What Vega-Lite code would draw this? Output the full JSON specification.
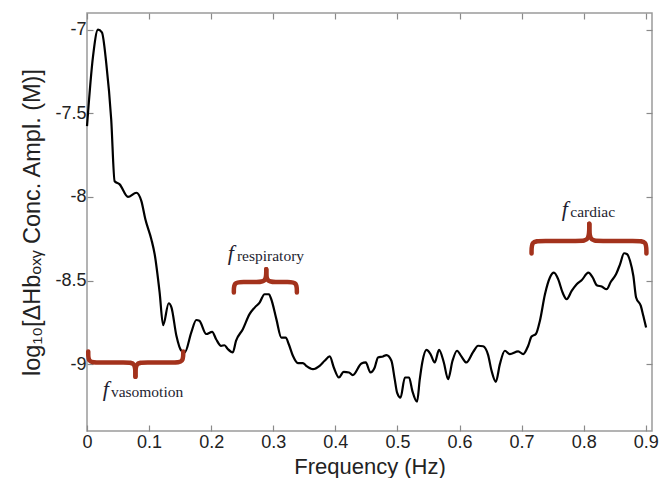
{
  "$schema": "https://vega.github.io/schema/vega-lite/v6.json",
  "width": 565,
  "height": 418,
  "autosize": {"type": "none"},
  "padding": {"left": 87, "top": 13, "right": 19, "bottom": 47},
  "background": "white",
  "config": {
    "view": {"stroke": "#9a9a9a", "strokeWidth": 1.5},
    "axis": {"grid": false, "domain": false, "labelFont": "Liberation Sans", "titleFont": "Liberation Sans", "labelColor": "#222", "titleColor": "#222", "tickColor": "#8a8a8a", "tickWidth": 1.2, "titleFontWeight": "normal", "labelFlush": false}
  },
  "datasets": {
    "spec": [
      {"f": 0, "a": -7.577}, {"f": 0.0097, "a": -7.159}, {"f": 0.0177, "a": -7.0}, {"f": 0.024, "a": -7.016},
      {"f": 0.031, "a": -7.2}, {"f": 0.039, "a": -7.537}, {"f": 0.0445, "a": -7.906}, {"f": 0.0526, "a": -7.925},
      {"f": 0.066, "a": -8.0}, {"f": 0.0795, "a": -7.975}, {"f": 0.0876, "a": -8.025}, {"f": 0.094, "a": -8.134},
      {"f": 0.1037, "a": -8.254}, {"f": 0.109, "a": -8.343}, {"f": 0.117, "a": -8.572}, {"f": 0.1226, "a": -8.767},
      {"f": 0.1316, "a": -8.636}, {"f": 0.136, "a": -8.66}, {"f": 0.144, "a": -8.83}, {"f": 0.152, "a": -8.92},
      {"f": 0.1575, "a": -8.93}, {"f": 0.168, "a": -8.81}, {"f": 0.176, "a": -8.736}, {"f": 0.181, "a": -8.741},
      {"f": 0.192, "a": -8.82}, {"f": 0.2016, "a": -8.807}, {"f": 0.208, "a": -8.851}, {"f": 0.216, "a": -8.891},
      {"f": 0.2215, "a": -8.887}, {"f": 0.2268, "a": -8.91}, {"f": 0.2348, "a": -8.93}, {"f": 0.24, "a": -8.861},
      {"f": 0.251, "a": -8.791}, {"f": 0.2618, "a": -8.701}, {"f": 0.27, "a": -8.662}, {"f": 0.278, "a": -8.632},
      {"f": 0.286, "a": -8.582}, {"f": 0.293, "a": -8.582}, {"f": 0.2968, "a": -8.612}, {"f": 0.305, "a": -8.731},
      {"f": 0.313, "a": -8.841}, {"f": 0.32, "a": -8.841}, {"f": 0.325, "a": -8.881}, {"f": 0.3316, "a": -8.95},
      {"f": 0.3397, "a": -8.994}, {"f": 0.3477, "a": -8.994}, {"f": 0.353, "a": -9.01}, {"f": 0.364, "a": -9.03},
      {"f": 0.3747, "a": -9.01}, {"f": 0.3827, "a": -8.98}, {"f": 0.391, "a": -8.954}, {"f": 0.3975, "a": -9.02},
      {"f": 0.4058, "a": -9.08}, {"f": 0.4134, "a": -9.046}, {"f": 0.422, "a": -9.05}, {"f": 0.428, "a": -9.066},
      {"f": 0.442, "a": -8.996}, {"f": 0.449, "a": -8.99}, {"f": 0.4565, "a": -9.05}, {"f": 0.4634, "a": -9.02},
      {"f": 0.4687, "a": -8.96}, {"f": 0.4768, "a": -8.954}, {"f": 0.4823, "a": -8.946}, {"f": 0.4903, "a": -8.98},
      {"f": 0.4956, "a": -9.09}, {"f": 0.4994, "a": -9.17}, {"f": 0.505, "a": -9.2}, {"f": 0.512, "a": -9.08},
      {"f": 0.5187, "a": -9.08}, {"f": 0.524, "a": -9.16}, {"f": 0.5316, "a": -9.225}, {"f": 0.536, "a": -9.09},
      {"f": 0.54, "a": -8.99}, {"f": 0.5468, "a": -8.915}, {"f": 0.5532, "a": -8.94}, {"f": 0.56, "a": -8.99},
      {"f": 0.567, "a": -8.915}, {"f": 0.5747, "a": -8.99}, {"f": 0.5816, "a": -9.09}, {"f": 0.5887, "a": -8.98},
      {"f": 0.596, "a": -8.92}, {"f": 0.603, "a": -8.954}, {"f": 0.611, "a": -8.99}, {"f": 0.622, "a": -8.927},
      {"f": 0.63, "a": -8.89}, {"f": 0.638, "a": -8.893}, {"f": 0.646, "a": -8.945}, {"f": 0.6516, "a": -9.04},
      {"f": 0.6585, "a": -9.106}, {"f": 0.665, "a": -9.0}, {"f": 0.673, "a": -8.92}, {"f": 0.681, "a": -8.94},
      {"f": 0.6945, "a": -8.924}, {"f": 0.7026, "a": -8.94}, {"f": 0.7106, "a": -8.89}, {"f": 0.716, "a": -8.835},
      {"f": 0.723, "a": -8.82}, {"f": 0.7295, "a": -8.74}, {"f": 0.7376, "a": -8.582}, {"f": 0.7456, "a": -8.482},
      {"f": 0.752, "a": -8.453}, {"f": 0.759, "a": -8.493}, {"f": 0.766, "a": -8.572}, {"f": 0.7726, "a": -8.612},
      {"f": 0.7806, "a": -8.562}, {"f": 0.7887, "a": -8.522}, {"f": 0.797, "a": -8.497}, {"f": 0.8074, "a": -8.453},
      {"f": 0.8145, "a": -8.482}, {"f": 0.821, "a": -8.528}, {"f": 0.829, "a": -8.536}, {"f": 0.837, "a": -8.552},
      {"f": 0.8435, "a": -8.509}, {"f": 0.852, "a": -8.463}, {"f": 0.8585, "a": -8.403}, {"f": 0.865, "a": -8.337},
      {"f": 0.87, "a": -8.343}, {"f": 0.8747, "a": -8.383}, {"f": 0.88, "a": -8.473}, {"f": 0.8844, "a": -8.602},
      {"f": 0.892, "a": -8.652}, {"f": 0.896, "a": -8.711}, {"f": 0.9005, "a": -8.781}
    ],
    "braces": [
      {"b": "vL", "i": 0, "x": 0.002, "y": -8.925}, {"b": "vL", "i": 1, "x": 0.002, "y": -8.99}, {"b": "vL", "i": 2, "x": 0.016, "y": -8.99}, {"b": "vL", "i": 3, "x": 0.064, "y": -8.99}, {"b": "vL", "i": 4, "x": 0.078, "y": -8.99}, {"b": "vL", "i": 5, "x": 0.078, "y": -9.075},
      {"b": "vR", "i": 0, "x": 0.078, "y": -9.075}, {"b": "vR", "i": 1, "x": 0.078, "y": -8.99}, {"b": "vR", "i": 2, "x": 0.092, "y": -8.99}, {"b": "vR", "i": 3, "x": 0.141, "y": -8.99}, {"b": "vR", "i": 4, "x": 0.155, "y": -8.99}, {"b": "vR", "i": 5, "x": 0.155, "y": -8.925},
      {"b": "rL", "i": 0, "x": 0.2365, "y": -8.572}, {"b": "rL", "i": 1, "x": 0.2365, "y": -8.509}, {"b": "rL", "i": 2, "x": 0.2505, "y": -8.509}, {"b": "rL", "i": 3, "x": 0.2747, "y": -8.509}, {"b": "rL", "i": 4, "x": 0.2887, "y": -8.509}, {"b": "rL", "i": 5, "x": 0.2887, "y": -8.432},
      {"b": "rR", "i": 0, "x": 0.2887, "y": -8.432}, {"b": "rR", "i": 1, "x": 0.2887, "y": -8.509}, {"b": "rR", "i": 2, "x": 0.3027, "y": -8.509}, {"b": "rR", "i": 3, "x": 0.324, "y": -8.509}, {"b": "rR", "i": 4, "x": 0.338, "y": -8.509}, {"b": "rR", "i": 5, "x": 0.338, "y": -8.572},
      {"b": "cL", "i": 0, "x": 0.716, "y": -8.338}, {"b": "cL", "i": 1, "x": 0.716, "y": -8.263}, {"b": "cL", "i": 2, "x": 0.730, "y": -8.263}, {"b": "cL", "i": 3, "x": 0.795, "y": -8.263}, {"b": "cL", "i": 4, "x": 0.809, "y": -8.263}, {"b": "cL", "i": 5, "x": 0.809, "y": -8.16},
      {"b": "cR", "i": 0, "x": 0.809, "y": -8.16}, {"b": "cR", "i": 1, "x": 0.809, "y": -8.263}, {"b": "cR", "i": 2, "x": 0.823, "y": -8.263}, {"b": "cR", "i": 3, "x": 0.887, "y": -8.263}, {"b": "cR", "i": 4, "x": 0.901, "y": -8.263}, {"b": "cR", "i": 5, "x": 0.901, "y": -8.338}
    ],
    "fl": [
      {"x": 0.0252, "y": -9.191, "t": "f"}, {"x": 0.2268, "y": -8.379, "t": "f"}, {"x": 0.7645, "y": -8.116, "t": "f"}
    ],
    "sub": [
      {"x": 0.0385, "y": -9.196, "t": "vasomotion"}, {"x": 0.2415, "y": -8.384, "t": "respiratory"}, {"x": 0.7785, "y": -8.121, "t": "cardiac"}
    ]
  },
  "layer": [
    {
      "data": {"name": "spec"},
      "mark": {"type": "line", "color": "black", "strokeWidth": 2.2, "interpolate": "monotone"},
      "encoding": {
        "x": {"field": "f", "type": "quantitative", "scale": {"domain": [0, 0.91], "nice": false, "zero": false},
          "axis": {"orient": "bottom", "values": [0, 0.1, 0.2, 0.3, 0.4, 0.5, 0.6, 0.7, 0.8, 0.9], "labelExpr": "'' + datum.value", "tickSize": -6, "labelFontSize": 18, "labelPadding": 8, "title": "Frequency (Hz)", "titleFontSize": 22, "titlePadding": 5}},
        "y": {"field": "a", "type": "quantitative", "scale": {"domain": [-9.4, -6.9], "nice": false, "zero": false},
          "axis": {"orient": "left", "values": [-9, -8.5, -8, -7.5, -7], "labelExpr": "'' + datum.value", "tickSize": -6, "labelFontSize": 18, "labelPadding": 7, "title": "log₁₀[ΔHbₒₓᵧ Conc.  Ampl. (M)]", "titleFontSize": 23.5, "titlePadding": 10}}
      }
    },
    {
      "data": {"name": "spec"},
      "mark": {"type": "line", "opacity": 0},
      "encoding": {
        "x": {"field": "f", "type": "quantitative", "axis": {"orient": "top", "values": [0, 0.1, 0.2, 0.3, 0.4, 0.5, 0.6, 0.7, 0.8, 0.9], "tickSize": -6, "labels": false, "title": null}},
        "y": {"field": "a", "type": "quantitative", "axis": {"orient": "right", "values": [-9, -8.5, -8, -7.5, -7], "tickSize": -6, "labels": false, "title": null}}
      }
    },
    {
      "data": {"name": "braces"},
      "mark": {"type": "line", "color": "#a3321c", "strokeWidth": 4.5, "interpolate": "basis", "strokeCap": "round"},
      "encoding": {
        "x": {"field": "x", "type": "quantitative", "axis": null},
        "y": {"field": "y", "type": "quantitative", "axis": null},
        "detail": {"field": "b"},
        "order": {"field": "i"}
      }
    },
    {
      "data": {"name": "fl"},
      "mark": {"type": "text", "font": "Liberation Serif", "fontStyle": "italic", "fontSize": 22, "align": "left", "baseline": "alphabetic", "color": "#1e1e30"},
      "encoding": {
        "x": {"field": "x", "type": "quantitative", "axis": null},
        "y": {"field": "y", "type": "quantitative", "axis": null},
        "text": {"field": "t"}
      }
    },
    {
      "data": {"name": "sub"},
      "mark": {"type": "text", "font": "Liberation Serif", "fontSize": 15.5, "align": "left", "baseline": "alphabetic", "color": "#1e1e30"},
      "encoding": {
        "x": {"field": "x", "type": "quantitative", "axis": null},
        "y": {"field": "y", "type": "quantitative", "axis": null},
        "text": {"field": "t"}
      }
    }
  ],
  "resolve": {"axis": {"x": "independent", "y": "independent"}}
}
